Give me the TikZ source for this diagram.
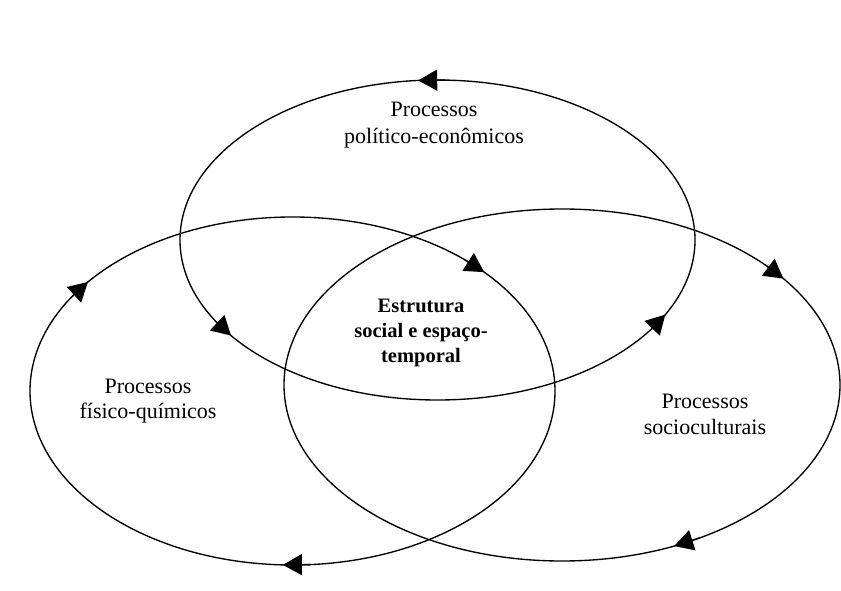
\documentclass[tikz,border=0pt]{standalone}
\usepackage{fontspec}
\setmainfont{Liberation Serif}
\usetikzlibrary{arrows.meta}

% Arrow head sitting on an elliptic cycle: centre (#1,#2), radii #3/#4,
% tip at parameter #5, short chord coming from parameter #6.
\newcommand{\cycletip}[6]{%
  \draw[cycle arrow] ({#1+#3*cos(#6)},{#2+#4*sin(#6)}) -- ({#1+#3*cos(#5)},{#2+#4*sin(#5)});%
}

\tikzset{
  orbit/.style={draw=black, line width=1.35pt},
  cycle arrow/.style={line width=1.35pt, -{Triangle[length=19pt,width=21pt]}},
  proc/.style={align=center, inner sep=0pt, text=black},
}

\begin{document}
\begin{tikzpicture}[x=1pt, y=-1pt]
  \useasboundingbox (0,0) rectangle (841,591);
  \fill[white] (0,0) rectangle (841,591);

  % the three cycles
  \draw[orbit] (437.5,240) ellipse [x radius=257.5pt, y radius=160pt];
  \draw[orbit] (292.5,391) ellipse [x radius=262.5pt, y radius=174pt];
  \draw[orbit] (562,385) ellipse [x radius=278pt, y radius=176pt];

  % political-economic cycle (runs anticlockwise)
  \cycletip{437.5}{240}{257.5}{160}{265.7}{271.7}
  \cycletip{437.5}{240}{257.5}{160}{143.3}{149.3}
  \cycletip{437.5}{240}{257.5}{160}{27.8}{33.8}

  % physical-chemical cycle (runs clockwise)
  \cycletip{292.5}{391}{262.5}{174}{218.8}{212.8}
  \cycletip{292.5}{391}{262.5}{174}{316.9}{310.9}
  \cycletip{292.5}{391}{262.5}{174}{92.1}{86.1}

  % sociocultural cycle (runs clockwise)
  \cycletip{562}{385}{278}{176}{322.8}{316.8}
  \cycletip{562}{385}{278}{176}{66.2}{60.2}

  % labels
  \node[proc, font={\fontsize{22}{27}\selectfont}] (polecon) at (434,125.6)
    {Processos\\político-econômicos};
  \node[proc, font={\fontsize{22}{25}\selectfont}] (fisquim) at (148,401)
    {Processos\\físico-químicos};
  \node[proc, font={\fontsize{22}{26}\selectfont}] (sociocult) at (705,414.7)
    {Processos\\socioculturais};
  \node[proc, font={\bfseries\fontsize{20.5}{25}\selectfont}] (estrutura) at (421,332.5)
    {Estrutura\\social e espaço-\\temporal};
\end{tikzpicture}
\end{document}
